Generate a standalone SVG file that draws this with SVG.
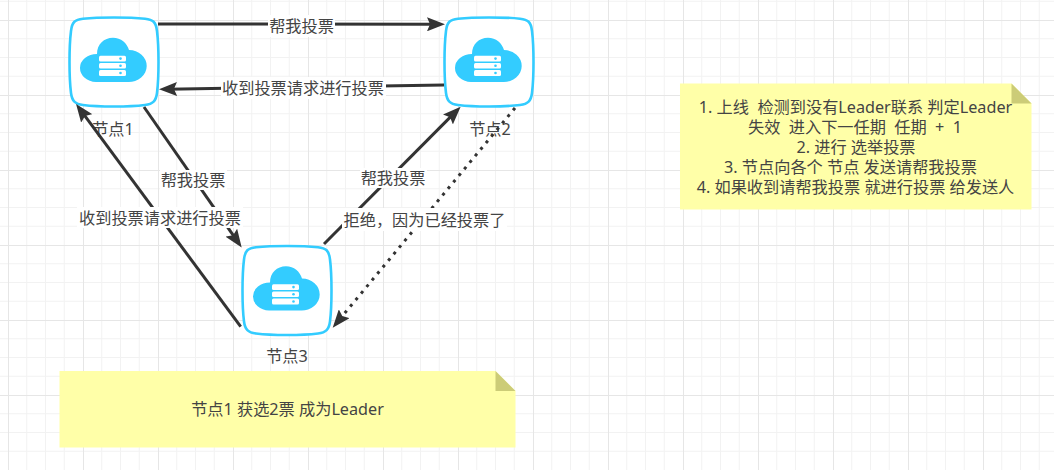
<svg xmlns="http://www.w3.org/2000/svg" width="1054" height="470" viewBox="0 0 1054 470">
  <style>
    text { font-family: "Noto Sans", "Noto Sans CJK SC", "Liberation Sans", sans-serif; font-size: 16.2px; fill: #444; text-anchor: middle; white-space: pre; }
    .edge { fill: none; stroke: #333; stroke-width: 3; marker-end: url(#arrow); }
    .dotted { stroke-dasharray: 3 5.5; }
    .bg { fill: #fff; }
    .note { fill: #ffffa8; }
    .fold { fill: #cccc77; }
  </style>
  <defs>
    <pattern id="grid" patternUnits="userSpaceOnUse" x="8" y="20" width="75" height="75">
      <path d="M0,18.75H75M0,37.5H75M0,56.25H75M18.75,0V75M37.5,0V75M56.25,0V75" fill="none" stroke="#f2f2f2" stroke-width="1"/>
      <path d="M0,.5H75M.5,0V75" fill="none" stroke="#e6e6e6" stroke-width="1"/>
    </pattern>
    <marker id="arrow" markerUnits="userSpaceOnUse" viewBox="0 0 18 14" markerWidth="18" markerHeight="14" refX="10" refY="7" orient="auto">
      <path d="M0,0L18,7L0,14L3,7Z" fill="#333"/>
    </marker>
    <g id="server">
      <path d="M14,1.700C30,0 60,0 76,1.700C84,2.500 87,5 88,14C90,30 90,60 88,76C87,84 84,87 76,88C60,90 30,90 14,88C6,87 3,84 2,76C0,60 0,30 2,14C3,5 6,2.500 14,1.700Z" fill="#fff" stroke="#33ccff" stroke-width="2.600"/>
      <path d="M27,65A16.500,14 0 0 1 11,51A17,14 0 0 1 28,37C28,27 35,20.700 44,20.700C52,20.700 58,26 60,33A18,16 0 0 1 77.700,49A18,16 0 0 1 59,65Z" fill="#33ccff"/>
      <rect x="30" y="38.700" width="27" height="5.800" rx="1.500" fill="#fff"/>
      <rect x="30" y="46" width="27" height="5.600" rx="1.500" fill="#fff"/>
      <rect x="30" y="53" width="27" height="6" rx="1.500" fill="#fff"/>
      <circle cx="51.500" cy="41.600" r="1.300" fill="#33ccff"/>
      <circle cx="51.500" cy="48.800" r="1.300" fill="#33ccff"/>
      <circle cx="51.500" cy="56" r="1.300" fill="#33ccff"/>
    </g>
  </defs>
  <rect width="1054" height="470" fill="#fff"/>
  <rect width="1054" height="470" fill="url(#grid)"/>
  <g id="note-2">
    <path class="note" d="M680,83.500H1011.500L1031.500,103.500V209.500H680Z"/>
    <path class="fold" d="M1011.500,83.500L1031.500,103.500H1011.500Z"/>
    <text x="855.500" y="112.500">1. 上线  检测到没有Leader联系 判定Leader</text>
    <text x="855" y="132.500">失效  进入下一任期  任期  +  1</text>
    <text x="856" y="152.500">2. 进行 选举投票</text>
    <text x="850.500" y="172.500">3. 节点向各个 节点 发送请帮我投票</text>
    <text x="855.500" y="192.500">4. 如果收到请帮我投票 就进行投票 给发送人</text>
  </g>
  <g id="note-1">
    <path class="note" d="M59.500,371H495.500L515.500,391V447.500H59.500Z"/>
    <path class="fold" d="M495.500,371L515.500,391H495.500Z"/>
    <text x="287.500" y="415">节点1 获选2票 成为Leader</text>
  </g>
  <g id="node-1">
    <use href="#server" x="69" y="17"/>
    <text x="113" y="134.500">节点1</text>
  </g>
  <g id="node-2">
    <use href="#server" x="444" y="17"/>
    <text x="490" y="134.500">节点2</text>
  </g>
  <g id="node-3">
    <use href="#server" x="242" y="245.500"/>
    <text x="287" y="362">节点3</text>
  </g>
  <g id="connectors">
    <path class="edge" d="M158,24L437,24.300"/>
    <path class="edge" d="M444,85L167,89.200"/>
    <path class="edge" d="M144,107L237.100,240.900"/>
    <path class="edge" d="M240.700,326.700L80.800,110.400"/>
    <path class="edge" d="M324,244L455,112.400"/>
    <path class="edge dotted" d="M515,108L337.800,321.500"/>
    <rect class="bg" x="268" y="15" width="67" height="22"/>
    <text x="301.500" y="32">帮我投票</text>
    <rect class="bg" x="221" y="77" width="165" height="22"/>
    <text x="303" y="94">收到投票请求进行投票</text>
    <rect class="bg" x="160" y="170" width="67" height="20"/>
    <text x="193" y="186">帮我投票</text>
    <rect class="bg" x="77" y="207" width="166" height="21"/>
    <text x="160" y="224">收到投票请求进行投票</text>
    <rect class="bg" x="360" y="168" width="67" height="20"/>
    <text x="393" y="184">帮我投票</text>
    <rect class="bg" x="342" y="208" width="165" height="23"/>
    <text x="424.500" y="226">拒绝，因为已经投票了</text>
  </g>
</svg>
